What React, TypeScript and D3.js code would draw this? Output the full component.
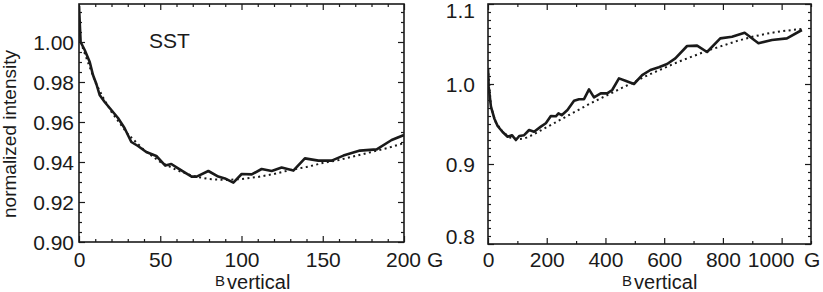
import * as d3 from "d3";
import { useEffect, useRef } from "react";

// ---- left panel (SST, 0-200 G) ----
const leftB = [0, 1, 3.5, 6.6, 8.6, 10.7, 12.7, 15.8, 19.9, 24, 28, 32.2, 36.3, 41.4, 47.6, 53.1, 56.8, 61, 66, 69.3, 72.4, 79.6, 85.7, 89.8, 95, 100.1, 106.3, 112.4, 118.6, 124.7, 131.9, 139, 147.3, 155.5, 162.7, 172.9, 183.2, 192.4, 200];
const leftI = [1.018, 1.0, 0.996, 0.99, 0.9835, 0.979, 0.9735, 0.97, 0.966, 0.962, 0.957, 0.95, 0.948, 0.945, 0.943, 0.9382, 0.939, 0.9368, 0.9343, 0.9327, 0.9327, 0.9355, 0.9327, 0.9318, 0.9297, 0.934, 0.9338, 0.9365, 0.9355, 0.9372, 0.9357, 0.9418, 0.9407, 0.9407, 0.9432, 0.9457, 0.9463, 0.951, 0.9535];
const leftFitB = [1, 5, 10, 15, 20, 30, 40, 50, 60, 70, 80, 90, 100, 110, 120, 130, 140, 150, 160, 170, 180, 190, 200];
const leftFitI = [1.0, 0.991, 0.98, 0.972, 0.965, 0.954, 0.946, 0.94, 0.936, 0.933, 0.9315, 0.931, 0.9315, 0.9325, 0.934, 0.936, 0.9375, 0.9395, 0.941, 0.943, 0.945, 0.947, 0.9495];
const leftXTicks = [0, 50, 100, 150, 200];
const leftYTicks = [0.9, 0.92, 0.94, 0.96, 0.98, 1.0];

// ---- right panel (0-1100 G) ----
const rightB = [0, 2.3, 10, 21.5, 32.8, 49.8, 66.8, 81.5, 95, 106.4, 123, 140, 157, 180, 197, 214, 231, 240, 251, 270.6, 293, 310, 327, 344, 361, 384, 406, 423, 446, 468, 497, 525, 553, 582, 610, 638, 678, 712, 746, 791, 831, 874, 921, 967, 1018, 1069];
const rightI = [1.0196, 0.9967, 0.9717, 0.957, 0.9475, 0.94, 0.934, 0.936, 0.93, 0.935, 0.936, 0.9425, 0.9404, 0.9467, 0.951, 0.96, 0.9596, 0.9633, 0.961, 0.9675, 0.979, 0.981, 0.981, 0.9933, 0.9833, 0.9883, 0.9883, 0.9925, 1.007, 1.004, 1.0, 1.011, 1.0175, 1.021, 1.025, 1.032, 1.0475, 1.048, 1.04, 1.057, 1.059, 1.064, 1.051, 1.055, 1.057, 1.0675];
const rightFitB = [0, 10, 25, 50, 75, 100, 125, 150, 200, 250, 300, 350, 400, 450, 500, 550, 600, 650, 700, 750, 800, 850, 900, 950, 1000, 1070];
const rightFitI = [1.02, 0.972, 0.953, 0.94, 0.933, 0.931, 0.932, 0.936, 0.946, 0.956, 0.966, 0.976, 0.985, 0.994, 1.003, 1.012, 1.02, 1.028, 1.035, 1.042, 1.048, 1.054, 1.059, 1.063, 1.066, 1.069];
const rightXTicks = [0, 200, 400, 600, 800, 1000];
const rightYTicks = [0.8, 0.9, 1.0, 1.1];

const FONT = "'Liberation Sans', Arial, Helvetica, sans-serif";
const INK = "#1a1a1a";

type Panel = {
  xDomain: [number, number];
  yDomain: [number, number];
  left: number;
  right: number;
  top: number;
  bottom: number;
  xTicks: number[];
  yTicks: number[];
  xMinorStep: number;
  yMinorStep: number;
  yFormat: (d: number) => string;
  yPad: number;
  solidB: number[];
  solidI: number[];
  fitB: number[];
  fitI: number[];
  unitX: number;
  lastLabelDx: number;
  titleX: number;
  yLabelShift: (d: number) => number;
};

function drawPanel(svg: d3.Selection<SVGSVGElement, unknown, null, undefined>, p: Panel) {
  const x = d3.scaleLinear().domain(p.xDomain).range([p.left, p.right]);
  const y = d3.scaleLinear().domain(p.yDomain).range([p.bottom, p.top]);
  const g = svg.append("g");

  const minorX = d3.range(p.xDomain[0], p.xDomain[1] + 1e-9, p.xMinorStep).filter((v) => !p.xTicks.some((t) => Math.abs(t - v) < 1e-9));
  const minorY = d3.range(p.yTicks[0], p.yDomain[1] + 1e-9, p.yMinorStep).filter((v) => !p.yTicks.some((t) => Math.abs(t - v) < 1e-6));

  const style = (sel: d3.Selection<SVGGElement, unknown, null, undefined>) => {
    sel.select(".domain").remove();
    sel.selectAll("line").attr("stroke", INK).attr("stroke-width", 1.2);
    sel.selectAll("text").attr("fill", INK).style("font-family", FONT).style("font-size", "21px");
  };

  // major ticks with labels (bottom / left)
  const bottomAxis = g.append("g").attr("transform", `translate(0,${p.bottom})`)
    .call(d3.axisBottom(x).tickValues(p.xTicks).tickSizeInner(-6).tickSizeOuter(0).tickFormat((d) => String(d)));
  style(bottomAxis);
  bottomAxis.selectAll<SVGTextElement, number>("text")
    .attr("y", 267 - p.bottom).attr("dy", null)
    .attr("dx", (d) => (d === p.xTicks[p.xTicks.length - 1] ? p.lastLabelDx : 0));

  const leftAxis = g.append("g").attr("transform", `translate(${p.left},0)`)
    .call(d3.axisLeft(y).tickValues(p.yTicks).tickSizeInner(-6).tickSizeOuter(0).tickPadding(p.yPad).tickFormat((d) => p.yFormat(d as number)));
  style(leftAxis);
  leftAxis.selectAll<SVGTextElement, number>("text").attr("dy", null).attr("y", (d) => 7.5 + p.yLabelShift(d));

  // mirrored major ticks (top / right)
  const topAxis = g.append("g").attr("transform", `translate(0,${p.top})`)
    .call(d3.axisTop(x).tickValues(p.xTicks).tickSizeInner(-6).tickSizeOuter(0).tickFormat(() => ""));
  style(topAxis);
  const rightAxis = g.append("g").attr("transform", `translate(${p.right},0)`)
    .call(d3.axisRight(y).tickValues(p.yTicks).tickSizeInner(-6).tickSizeOuter(0).tickFormat(() => ""));
  style(rightAxis);

  // minor ticks on all four sides
  const minors: [d3.Axis<d3.NumberValue>, string][] = [
    [d3.axisBottom(x).tickValues(minorX), `translate(0,${p.bottom})`],
    [d3.axisTop(x).tickValues(minorX), `translate(0,${p.top})`],
    [d3.axisLeft(y).tickValues(minorY), `translate(${p.left},0)`],
    [d3.axisRight(y).tickValues(minorY), `translate(${p.right},0)`],
  ];
  minors.forEach(([ax, tr]) => {
    const m = g.append("g").attr("transform", tr).call(ax.tickSizeInner(-3).tickSizeOuter(0).tickFormat(() => ""));
    style(m);
  });

  // frame
  g.append("rect")
    .attr("x", p.left).attr("y", p.top)
    .attr("width", p.right - p.left).attr("height", p.bottom - p.top)
    .attr("fill", "none").attr("stroke", INK).attr("stroke-width", 1.6);

  // clip for curves
  const clipId = `clip-${p.left}`;
  svg.append("defs").append("clipPath").attr("id", clipId)
    .append("rect").attr("x", p.left).attr("y", p.top).attr("width", p.right - p.left).attr("height", p.bottom - p.top);

  const line = d3.line<[number, number]>().x((d) => x(d[0])).y((d) => y(d[1]));

  g.append("path")
    .attr("clip-path", `url(#${clipId})`)
    .attr("d", line(p.fitB.map((b, i) => [b, p.fitI[i]]))!)
    .attr("fill", "none").attr("stroke", INK).attr("stroke-width", 2)
    .attr("stroke-dasharray", "2 3.4");

  g.append("path")
    .attr("clip-path", `url(#${clipId})`)
    .attr("d", line(p.solidB.map((b, i) => [b, p.solidI[i]]))!)
    .attr("fill", "none").attr("stroke", INK).attr("stroke-width", 2.6)
    .attr("stroke-linejoin", "round");

  // unit
  g.append("text").attr("x", p.unitX).attr("y", 267)
    .attr("fill", INK).style("font-family", FONT).style("font-size", "21px").text("G");

  // axis title: B (small, raised) + vertical
  const title = g.append("text").attr("x", p.titleX).attr("y", 289)
    .attr("fill", INK).style("font-family", FONT);
  title.append("tspan").style("font-size", "15px").attr("dy", -3).text("B");
  title.append("tspan").style("font-size", "20px").attr("dx", 2).attr("dy", 3).text("vertical");
}

export default function App() {
  const ref = useRef<SVGSVGElement | null>(null);

  useEffect(() => {
    const svg = d3.select(ref.current!);
    svg.selectAll("*").remove();

    drawPanel(svg, {
      xDomain: [0, 200],
      yDomain: [0.9, 1.019],
      left: 79,
      right: 404,
      top: 4,
      bottom: 242,
      xTicks: leftXTicks,
      yTicks: leftYTicks,
      xMinorStep: 10,
      yMinorStep: 0.005,
      yFormat: (d) => d.toFixed(2),
      yPad: 5,
      solidB: leftB,
      solidI: leftI,
      fitB: leftFitB,
      fitI: leftFitI,
      unitX: 427,
      lastLabelDx: -1,
      titleX: 215,
      yLabelShift: () => 0,
    });

    drawPanel(svg, {
      xDomain: [0, 1100],
      yDomain: [0.8, 1.1],
      left: 488,
      right: 811,
      top: 4,
      bottom: 244,
      xTicks: rightXTicks,
      yTicks: rightYTicks,
      xMinorStep: 100,
      yMinorStep: 0.01,
      yFormat: (d) => d.toFixed(1),
      yPad: 13,
      solidB: rightB,
      solidI: rightI,
      fitB: rightFitB,
      fitI: rightFitI,
      unitX: 804,
      lastLabelDx: -11,
      titleX: 622,
      yLabelShift: (d) => (d === 0.8 ? -8 : d === 1.1 ? 6 : 0),
    });

    // y-axis label
    svg.append("text")
      .attr("transform", "translate(16,134) rotate(-90)")
      .attr("text-anchor", "middle")
      .attr("fill", INK)
      .style("font-family", FONT)
      .style("font-size", "19px")
      .text("normalized intensity");

    // panel annotation
    svg.append("text")
      .attr("x", 149).attr("y", 48)
      .attr("fill", INK)
      .style("font-family", FONT)
      .style("font-size", "21px")
      .text("SST");
  }, []);

  return (
    <svg
      ref={ref}
      width={823}
      height={292}
      style={{ position: "absolute", left: 0, top: 0, background: "#fff" }}
    />
  );
}
